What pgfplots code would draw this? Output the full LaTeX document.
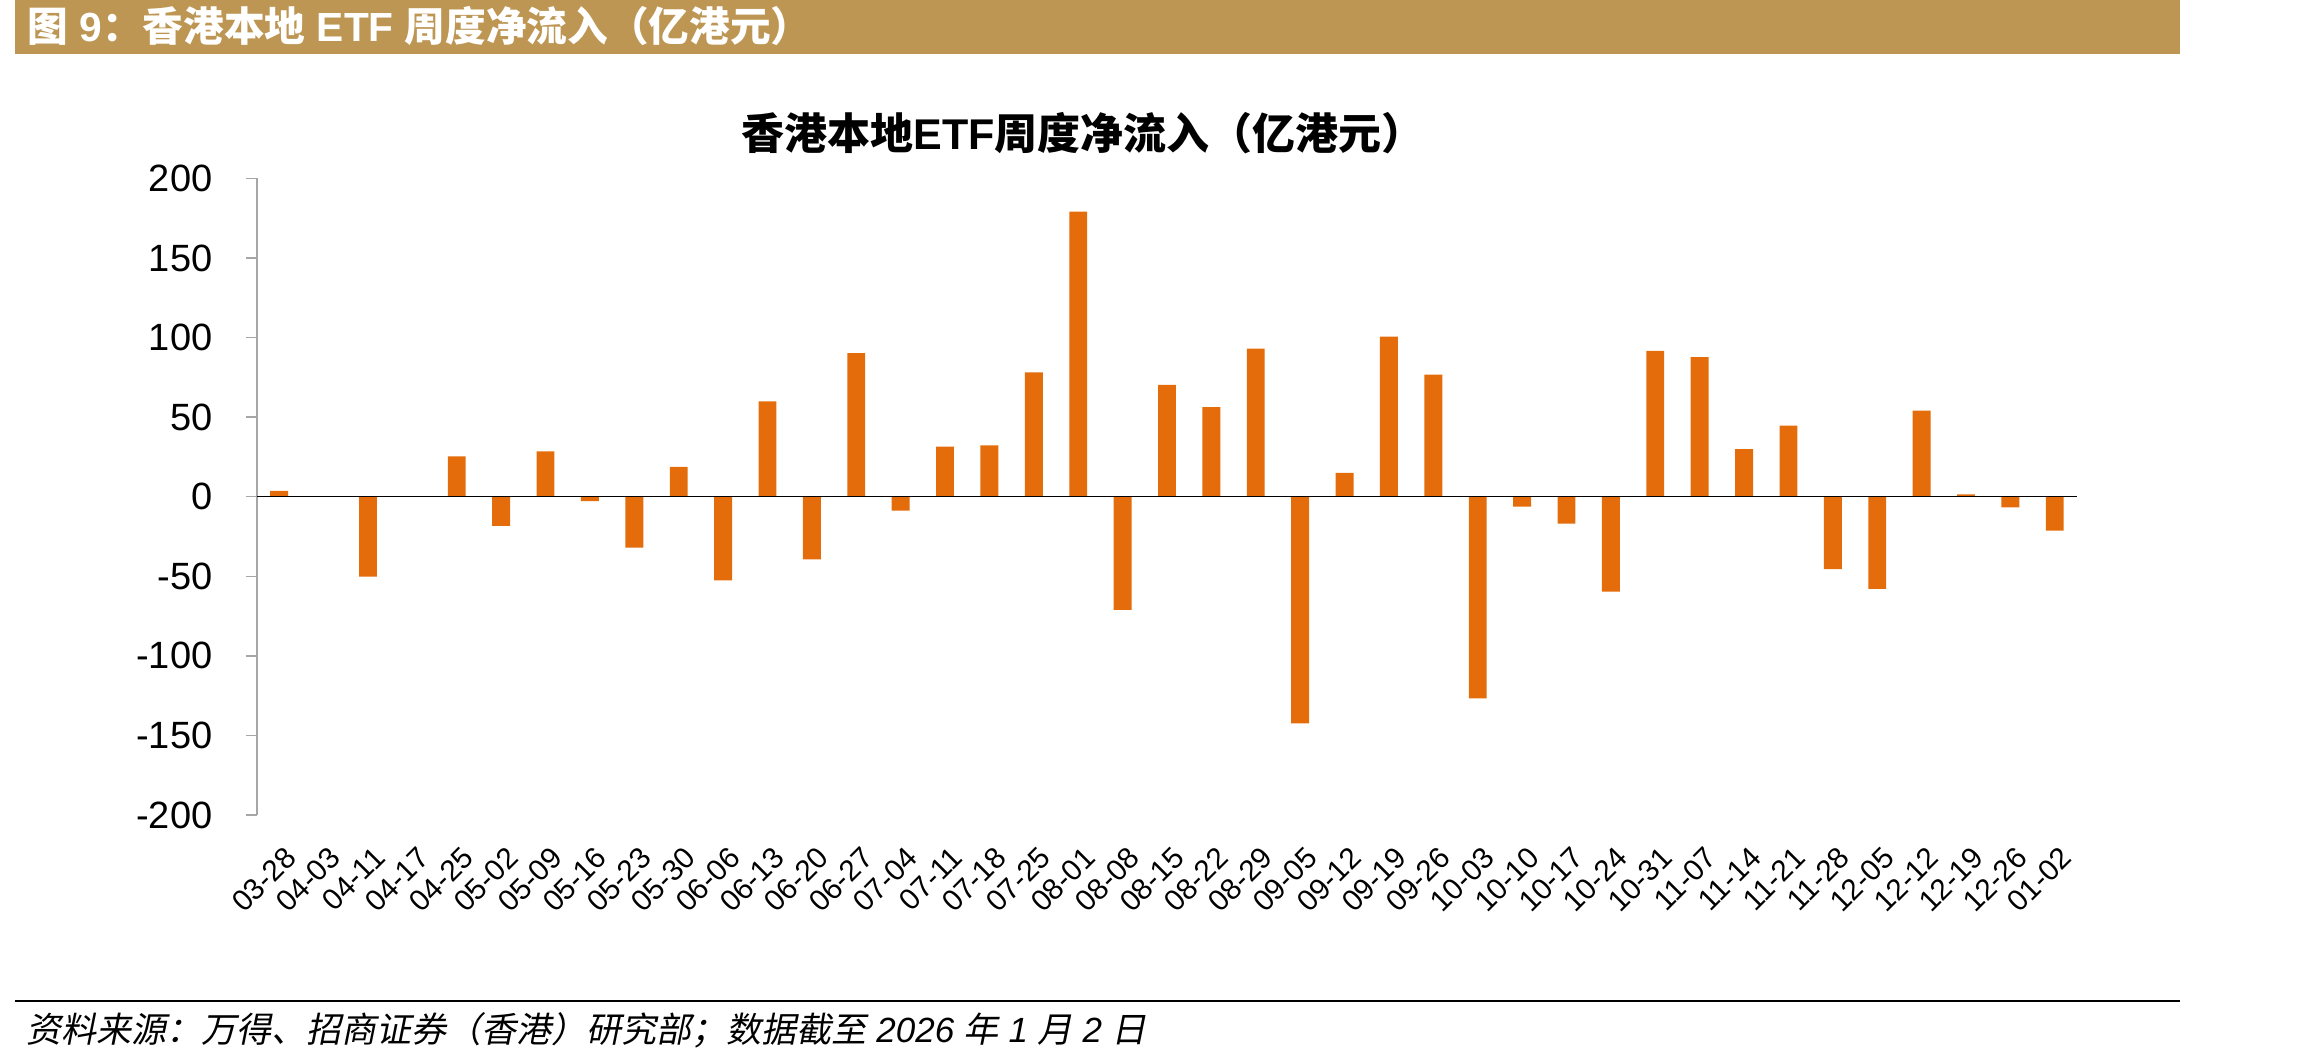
\documentclass[border=0pt]{standalone}
\usepackage{fontspec}
\setmainfont{Liberation Sans}
\newfontfamily\cjk{Noto Sans CJK SC}
\newfontfamily\cjkit{Noto Sans CJK SC}[FakeSlant=0.2]
\usepackage{pgfplots}
\pgfplotsset{compat=1.18}
\definecolor{barorange}{RGB}{228,108,10}
\definecolor{headtan}{RGB}{189,150,83}
\definecolor{axisgray}{RGB}{166,166,166}
\begin{document}
\begin{tikzpicture}
\path (0pt,0pt) rectangle (691.8pt,-318.6pt);
\fill[headtan] (4.5pt,0pt) rectangle (654pt,-16.2pt);
\node[anchor=west, text=white, font=\fontsize{12.2}{14}\selectfont\bfseries, inner sep=0pt] at (8.1pt,-7.8pt) {{\cjk 图} 9{\cjk ：香港本地} ETF {\cjk 周度净流入（亿港元）}};
\node[font=\fontsize{12.9}{15}\selectfont\bfseries, inner sep=0pt] at (324.9pt,-39.9pt) {{\cjk 香港本地}ETF{\cjk 周度净流入（亿港元）}};
\draw[line width=0.6pt] (4.5pt,-300.3pt) -- (654pt,-300.3pt);
\node[anchor=west, font=\fontsize{10.5}{12}\selectfont\itshape, inner sep=0pt] at (7.8pt,-309pt) {{\cjkit 资料来源：万得、招商证券（香港）研究部；数据截至} 2026 {\cjkit 年} 1 {\cjkit 月} 2 {\cjkit 日}};
\begin{axis}[
  at={(77.1pt,-244.5pt)}, anchor=south west,
  scale only axis, width=546pt, height=191pt,
  xmin=-0.5, xmax=40.5, ymin=-200, ymax=200,
  axis y line*=left,
  axis x line*=bottom,
  x axis line style={draw=none},
  y axis line style={axisgray, line width=0.4pt},
  ytick={-200,-150,-100,-50,0,50,100,150,200},
  ytick style={axisgray, line width=0.4pt},
  tick align=outside,
  major tick length=3.3pt,
  xtick={0,...,40},
  xtick style={draw=none},
  xticklabels={03-28,04-03,04-11,04-17,04-25,05-02,05-09,05-16,05-23,05-30,06-06,06-13,06-20,06-27,07-04,07-11,07-18,07-25,08-01,08-08,08-15,08-22,08-29,09-05,09-12,09-19,09-26,10-03,10-10,10-17,10-24,10-31,11-07,11-14,11-21,11-28,12-05,12-12,12-19,12-26,01-02},
  xticklabel style={xshift=3.6pt, yshift=-7.95pt, rotate=45, anchor=east, inner sep=0pt, font=\fontsize{8.9}{10}\selectfont},
  yticklabel style={anchor=east, inner sep=0pt, xshift=-9.9pt, font=\fontsize{11.4}{13}\selectfont},
  /pgf/number format/assume math mode=true,
  ybar, bar width=5.37pt,
]
\addplot[draw=none, fill=barorange] coordinates {
(0,3.7) (1,0) (2,-50.3) (3,0) (4,25.3) (5,-18.3) (6,28.4) (7,-2.8) (8,-32.0) (9,18.8)
(10,-52.6) (11,59.9) (12,-39.4) (13,90.2) (14,-8.7) (15,31.5) (16,32.3) (17,78.1) (18,179.1) (19,-71.1)
(20,70.3) (21,56.2) (22,93.0) (23,-142.5) (24,14.9) (25,100.6) (26,76.7) (27,-126.8) (28,-6.2) (29,-16.9)
(30,-59.6) (31,91.6) (32,87.7) (33,29.8) (34,44.7) (35,-45.5) (36,-57.9) (37,54.0) (38,1.4) (39,-6.7)
(40,-21.4)
};
\draw[black, line width=0.45pt] (axis cs:-0.5,0) -- (axis cs:40.5,0);
\end{axis}
\end{tikzpicture}
\end{document}
